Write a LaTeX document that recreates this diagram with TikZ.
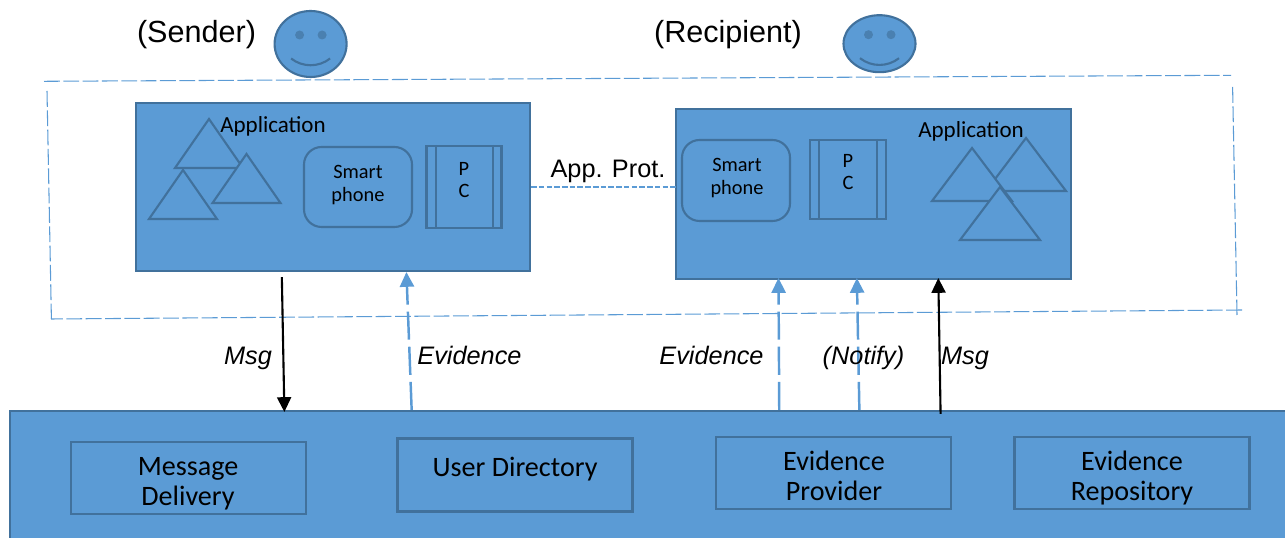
\documentclass[tikz,border=0pt]{standalone}
\usepackage{fontspec}
\setmainfont{Liberation Sans}
\newfontfamily\carlito{Carlito}
\usetikzlibrary{arrows.meta,calc}
\definecolor{boxblue}{HTML}{5B9BD5}
\definecolor{boxline}{HTML}{41719C}
\definecolor{eyeblue}{HTML}{4A80B0}
\tikzset{
    panel/.style={draw=boxline,fill=boxblue,line width=.6pt,inner sep=0pt},
    device/.style={draw=boxline,line width=.6pt,inner sep=0pt},
    smalltxt/.style={font=\carlito\fontsize{5.8}{6.3}\selectfont,align=center,inner sep=0pt},
    apptxt/.style={font=\carlito\fontsize{6.55}{7}\selectfont,inner sep=0pt},
    servicetxt/.style={font=\carlito\fontsize{8}{8.55}\selectfont,align=center,inner sep=0pt},
    roletxt/.style={font=\fontsize{8.7}{9}\selectfont,inner sep=0pt},
    flowtxt/.style={font=\fontsize{7.2}{8}\selectfont\itshape,inner sep=0pt,anchor=base},
    msgline/.style={-{Triangle[width=4pt,length=4.2pt]},black,line width=.6pt},
    evline/.style={-{Triangle[width=4pt,length=4.2pt]},boxblue,line width=.7pt,dash pattern=on 8pt off 2pt},
    outerline/.style={boxblue,line width=.3pt,dash pattern=on 4.5pt off 1pt}
}
\begin{document}
\begin{tikzpicture}
    \useasboundingbox (0,0) rectangle (12.85,5.37);
    % boundary round the two sides
    \draw[outerline] (.44,4.557)--(12.31,4.617);
    \draw[outerline] (12.326,4.50)--(12.37,2.22);
    \draw[outerline] (12.42,2.27)--(.51,2.18);
    \draw[outerline] (.47,4.46)--(.514,2.18);
    % faces
    \foreach \x/\y/\ry in {3.106/4.93/.33,8.795/4.933/.285}
    {
        \draw[panel] (\x,\y) ellipse (.36 and \ry);
        \fill[eyeblue] (\x-.11,\y+.09) circle (.045);
        \fill[eyeblue] (\x+.115,\y+.09) circle (.045);
        \draw[device] (\x-.195,\y-.145) .. controls (\x-.08,\y-.235) and (\x+.08,\y-.235) .. (\x+.195,\y-.145);
    }
    \node[roletxt] (sender) at (1.965,5.02) {(Sender)};
    \node[roletxt] (recipient) at (7.28,5.02) {(Recipient)};
    % the two sides
    \node[panel,minimum width=3.94cm,minimum height=1.68cm] (sendbox) at (3.33,3.5) {};
    \node[panel,minimum width=3.95cm,minimum height=1.70cm] (recvbox) at (8.735,3.43) {};
    \foreach \x/\y in {2.09/4.18,2.465/3.83,1.83/3.67}
    \draw[device,fill=boxblue] (\x,\y)--++(-.34,-.49)--++(.68,0)--cycle;
    \foreach \x/\y in {10.26/3.99,9.72/3.89,10/3.5}
    \draw[device,fill=boxblue] (\x,\y)--++(-.4,-.53)--++(.8,0)--cycle;
    \node[apptxt] (appsend) at (2.73,4.11) {Application};
    \node[apptxt] (apprecv) at (9.71,4.06) {Application};
    \node[device,rounded corners=5pt,minimum width=1.08cm,minimum height=.80cm] (phonesend) at (3.58,3.5) {};
    \node[device,rounded corners=5pt,minimum width=1.08cm,minimum height=.81cm] (phonerecv) at (7.36,3.565) {};
    \node[smalltxt] (phonesendtxt) at (3.58,3.52) {Smart\\phone};
    \node[smalltxt] (phonerecvtxt) at (7.37,3.59) {Smart\\phone};
    \node[device,minimum width=.75cm,minimum height=.82cm] (pcsend) at (4.64,3.5) {};
    \node[device,minimum width=.76cm,minimum height=.79cm] (pcrecv) at (8.476,3.575) {};
    \draw[device] ($(pcsend.north west)+(.105,0)$)--($(pcsend.south west)+(.105,0)$);
    \draw[device] ($(pcsend.north east)-(.095,0)$)--($(pcsend.south east)-(.095,0)$);
    \draw[device] ($(pcrecv.north west)+(.1,0)$)--($(pcrecv.south west)+(.1,0)$);
    \draw[device] ($(pcrecv.north east)-(.095,0)$)--($(pcrecv.south east)-(.095,0)$);
    \node[smalltxt] (pcsendtxt) at (4.64,3.57) {P\\C};
    \node[smalltxt] (pcrecvtxt) at (8.48,3.65) {P\\C};
    % services along the bottom
    \node[panel,minimum width=12.8cm,minimum height=1.36cm] (band) at (6.5,.58) {};
    \node[device,minimum width=2.35cm,minimum height=.72cm] (delivery) at (1.885,.59) {};
    \node[device,minimum width=2.35cm,minimum height=.73cm] (directory) at (5.15,.62) {};
    \node[device,minimum width=2.35cm,minimum height=.72cm] (provider) at (8.335,.64) {};
    \node[device,minimum width=2.35cm,minimum height=.72cm] (repository) at (11.32,.64) {};
    \node[servicetxt] (deliverytxt) at (1.88,.53) {Message\\Delivery};
    \node[servicetxt] (directorytxt) at (5.15,.68) {User Directory};
    \node[servicetxt] (providertxt) at (8.34,.61) {Evidence\\Provider};
    \node[servicetxt] (repositorytxt) at (11.32,.59) {Evidence\\Repository};
    % flows
    \draw[boxblue,line width=.35pt,dash pattern=on 1.6pt off .6pt,shorten >=.6pt] (sendbox.east)--(sendbox.east -| phonerecv.west);
    \node[font=\fontsize{7.2}{8}\selectfont,inner sep=0pt] (prot) at (6.08,3.66) {App. Prot.};
    \draw[msgline,shorten <=.05cm,shorten >=-.02cm] ($(sendbox.south west)!.3706!(sendbox.south east)$)--($(band.north west)!.2148!(band.north east)$);
    \draw[evline] ($(band.north west)!.3141!(band.north east)$)--($(sendbox.south west)!.6853!(sendbox.south east)$);
    \draw[evline,shorten >=-.02cm] ($(band.north west)!.6008!(band.north east)$)--($(recvbox.south west)!.2608!(recvbox.south east)$);
    \draw[evline,shorten >=-.02cm] ($(band.north west)!.6633!(band.north east)$)--($(recvbox.south west)!.4582!(recvbox.south east)$);
    \draw[msgline,shorten <=-.04cm,shorten >=-.02cm] ($(band.north west)!.7266!(band.north east)$)--($(recvbox.south west)!.6633!(recvbox.south east)$);
    \node[flowtxt] (msgsend) at (2.48,1.72) {Msg};
    \node[flowtxt] (evsend) at (4.695,1.72) {Evidence};
    \node[flowtxt] (evrecv) at (7.115,1.72) {Evidence};
    \node[flowtxt] (notify) at (8.635,1.72) {(Notify)};
    \node[flowtxt] (msgrecv) at (9.65,1.72) {Msg};
\end{tikzpicture}
\end{document}
